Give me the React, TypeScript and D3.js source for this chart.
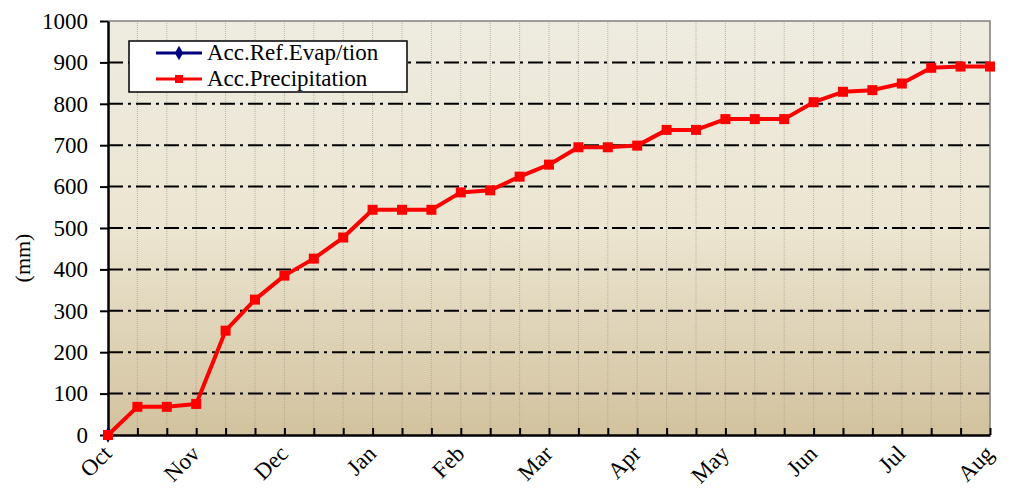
import React, { useEffect, useRef } from "react";
import * as d3 from "d3";

// 10-day periods from 1 Oct to 1 Aug (31 points)
const months = ["Oct", "Nov", "Dec", "Jan", "Feb", "Mar", "Apr", "May", "Jun", "Jul", "Aug"];
const precip = [0, 68, 68, 75, 252, 327, 385, 426, 477, 544, 544, 544, 586, 591, 624, 653,
  695, 695, 699, 737, 737, 763, 763, 763, 804, 829, 833, 849, 887, 890, 890];
const evap = [0];
const yTicks = [0, 100, 200, 300, 400, 500, 600, 700, 800, 900, 1000];

const W = 1012;
const H = 488;
const margin = { top: 21, right: 22, bottom: 53, left: 108 };
const font = "Liberation Serif, Times New Roman, serif";

export default function App() {
  const ref = useRef<SVGSVGElement>(null);

  useEffect(() => {
    const svg = d3.select(ref.current);
    svg.selectAll("*").remove();

    const x = d3.scaleLinear().domain([0, precip.length - 1]).range([margin.left, W - margin.right]);
    const y = d3.scaleLinear().domain([0, 1000]).range([H - margin.bottom, margin.top]);
    const [x0, x1] = x.range();
    const [yb, yt] = y.range();

    const grad = svg.append("defs").append("linearGradient")
      .attr("id", "bg").attr("x1", 0).attr("y1", 0).attr("x2", 0).attr("y2", 1);
    grad.append("stop").attr("offset", "0%").attr("stop-color", "#eeebe0");
    grad.append("stop").attr("offset", "50%").attr("stop-color", "#ece5d1");
    grad.append("stop").attr("offset", "100%").attr("stop-color", "#d2c29e");

    svg.append("rect")
      .attr("x", x0).attr("y", yt).attr("width", x1 - x0).attr("height", yb - yt)
      .attr("fill", "url(#bg)");

    // vertical dotted grid
    svg.append("g").selectAll("line")
      .data(d3.range(1, precip.length))
      .enter().append("line")
      .attr("x1", (d) => x(d)).attr("x2", (d) => x(d))
      .attr("y1", yt).attr("y2", yb)
      .attr("stroke", "#a59c8a").attr("stroke-width", 1).attr("stroke-dasharray", "1,1")
      .attr("opacity", 0.7);

    // horizontal dash-dot grid
    svg.append("g").selectAll("line")
      .data(yTicks.filter((t) => t > 0 && t < 1000))
      .enter().append("line")
      .attr("x1", x0).attr("x2", x1)
      .attr("y1", (d) => y(d)).attr("y2", (d) => y(d))
      .attr("stroke", "#000").attr("stroke-width", 2).attr("stroke-dasharray", "15,5,3,5");

    // top/right border
    svg.append("path")
      .attr("d", `M${x0},${yt}H${x1}V${yb}`)
      .attr("fill", "none").attr("stroke", "#808080").attr("stroke-width", 1.5);

    // y axis
    const yAxis = svg.append("g").attr("transform", `translate(${x0},0)`)
      .call(d3.axisLeft(y).tickValues(yTicks).tickFormat(d3.format("d")).tickSize(8).tickPadding(12).tickSizeOuter(0));
    yAxis.attr("font-family", font).attr("font-size", 23);
    yAxis.select(".domain").attr("stroke-width", 2.5);
    yAxis.selectAll(".tick line").attr("stroke-width", 2);
    yAxis.selectAll("text").attr("fill", "#000");

    // x axis with inside ticks
    const xAxis = svg.append("g").attr("transform", `translate(0,${yb})`)
      .call(d3.axisBottom(x).tickValues(d3.range(0, precip.length)).tickSize(-7).tickSizeOuter(0).tickFormat(() => ""));
    xAxis.select(".domain").attr("stroke-width", 2.5);
    xAxis.selectAll(".tick line").attr("stroke-width", 2);

    svg.append("g").attr("font-family", font).attr("font-size", 23)
      .selectAll("text")
      .data(months)
      .enter().append("text")
      .attr("transform", (d, i) => `translate(${x(i * 3) + 5},${yb + 20}) rotate(-45)`)
      .attr("text-anchor", "end")
      .text((d) => d);

    svg.append("text")
      .attr("transform", `translate(30,258) rotate(-90)`)
      .attr("text-anchor", "middle")
      .attr("font-family", font).attr("font-size", 22)
      .text("(mm)");

    const line = d3.line<number>().x((d, i) => x(i)).y((d) => y(d));

    // evaporation series
    svg.append("path").datum(evap).attr("d", line)
      .attr("fill", "none").attr("stroke", "#000080").attr("stroke-width", 3.5);
    svg.append("g").selectAll("path")
      .data(evap).enter().append("path")
      .attr("d", d3.symbol(d3.symbolDiamond, 70))
      .attr("transform", (d, i) => `translate(${x(i)},${y(d)})`)
      .attr("fill", "#000080");

    // precipitation series
    svg.append("path").datum(precip).attr("d", line)
      .attr("fill", "none").attr("stroke", "#ff0000").attr("stroke-width", 4)
      .attr("stroke-linejoin", "round");
    svg.append("g").selectAll("rect")
      .data(precip).enter().append("rect")
      .attr("x", (d, i) => x(i) - 5).attr("y", (d) => y(d) - 5)
      .attr("width", 10).attr("height", 10)
      .attr("fill", "#ff0000");

    // legend
    const lg = svg.append("g").attr("font-family", font).attr("font-size", 23);
    lg.append("rect").attr("x", 129).attr("y", 41).attr("width", 278).attr("height", 51)
      .attr("fill", "#fff").attr("stroke", "#000").attr("stroke-width", 1.5);
    const items = [
      { name: "Acc.Ref.Evap/tion", color: "#000080", diamond: true },
      { name: "Acc.Precipitation", color: "#ff0000", diamond: false },
    ];
    items.forEach((it, i) => {
      const cy = 53 + i * 26;
      lg.append("line").attr("x1", 156).attr("x2", 202).attr("y1", cy).attr("y2", cy)
        .attr("stroke", it.color).attr("stroke-width", 3);
      if (it.diamond) {
        lg.append("path").attr("d", d3.symbol(d3.symbolDiamond, 60))
          .attr("transform", `translate(179,${cy})`).attr("fill", it.color);
      } else {
        lg.append("rect").attr("x", 175).attr("y", cy - 4).attr("width", 8).attr("height", 8)
          .attr("fill", it.color);
      }
      lg.append("text").attr("x", 207).attr("y", cy + 7)
        .text(it.name);
    });
  }, []);

  return <svg ref={ref} width={W} height={H} style={{ display: "block", position: "absolute", left: 0, top: 0 }} />;
}
